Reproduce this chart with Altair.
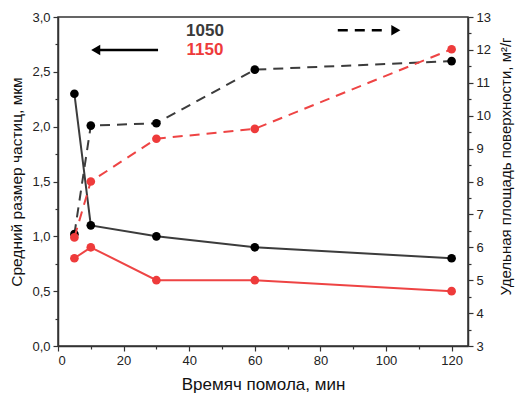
import altair as alt
import pandas as pd

# data
time_min = [5, 10, 30, 60, 120]
size_1050 = [2.3, 1.1, 1.0, 0.9, 0.8]
size_1150 = [0.8, 0.9, 0.6, 0.6, 0.5]
area_1050 = [6.4, 9.7, 9.77, 11.4, 11.66]
area_1150 = [6.3, 8.0, 9.3, 9.6, 12.02]
series = ["1050", "1150"]
colors_line = ["#3c3c3c", "#ee4444"]
colors_point = ["#000000", "#ee3b3b"]
label_colors = ["#3a3a3a", "#ee3b3b"]

FONT = "Liberation Sans"

rows = []
for i, t in enumerate(time_min):
    rows.append({"t": t, "s": "1050", "size": size_1050[i], "area": area_1050[i]})
    rows.append({"t": t, "s": "1150", "size": size_1150[i], "area": area_1150[i]})
df = pd.DataFrame(rows)

comma = "replace(format(datum.value, '.1f'), '.', ',')"

x_scale = alt.Scale(domain=[0, 125], nice=False, zero=False)
x_axis = alt.Axis(
    title="Времяч помола, мин",
    values=list(range(0, 121, 10)),
    labelExpr="datum.value % 20 === 0 ? datum.label : ''",
    tickSize={"condition": {"test": "datum.value % 20 === 0", "value": 5}, "value": 3},
    grid=False,
    titlePadding=9,
    titleFontSize=17,
)

left_scale = alt.Scale(domain=[0, 3], nice=False, zero=False)
right_scale = alt.Scale(domain=[3, 13], nice=False, zero=False)

left_axis = alt.Axis(
    title="Средний размер частиц, мкм",
    values=[i * 0.25 for i in range(13)],
    labelExpr=f"(datum.value * 4) % 2 === 0 ? {comma} : ''",
    tickSize={"condition": {"test": "(datum.value * 4) % 2 === 0", "value": 5}, "value": 3},
    grid=False,
    titlePadding=7,
    titleFontSize=15.5,
)
right_axis = alt.Axis(
    title="Удельная площадь поверхности, м²/г",
    orient="right",
    values=[3 + i * 0.5 for i in range(21)],
    labelExpr="(datum.value * 2) % 2 === 0 ? format(datum.value, 'd') : ''",
    tickSize={"condition": {"test": "(datum.value * 2) % 2 === 0", "value": 5}, "value": 3},
    grid=False,
    titleAngle=270,
    titleBaseline="top",
    titlePadding=8,
    titleFontSize=15,
    titleY=149,
)


def X(field="t:Q"):
    return alt.X(field, scale=x_scale, axis=x_axis)


def YL(field="size:Q"):
    return alt.Y(field, scale=left_scale, axis=left_axis)


def YR(field="area:Q"):
    return alt.Y(field, scale=right_scale, axis=right_axis)


left_layers = []
right_layers = []
for idx, s in enumerate(series):
    base = alt.Chart(df[df.s == s])
    left_layers.append(base.mark_line(color=colors_line[idx], strokeWidth=2).encode(x=X(), y=YL()))
    left_layers.append(base.mark_circle(color=colors_point[idx], size=75, opacity=1).encode(x=X(), y=YL()))
    right_layers.append(
        base.mark_line(color=colors_line[idx], strokeWidth=2, strokeDash=[10, 7]).encode(x=X(), y=YR())
    )
    right_layers.append(base.mark_circle(color=colors_point[idx], size=75, opacity=1).encode(x=X(), y=YR()))

# annotations: legend labels and arrows (in data coordinates)
label_df = pd.DataFrame({"t": [44.8, 44.8], "size": [2.87, 2.70], "s": series})
labels = alt.Chart(label_df).mark_text(
    font=FONT, fontSize=17, fontWeight="bold", align="center", baseline="middle"
).encode(
    x=X(),
    y=YL(),
    text="s:N",
    color=alt.Color("s:N", scale=alt.Scale(domain=series, range=label_colors), legend=None),
)

arrow_l_df = pd.DataFrame({"t": [12.0], "t2": [30.5], "size": [2.70]})
arrow_l_line = alt.Chart(arrow_l_df).mark_rule(color="black", strokeWidth=2.5).encode(
    x=X(), x2="t2:Q", y=YL()
)
arrow_l_head_df = pd.DataFrame({"t": [11.5], "size": [2.70]})
arrow_l_head = alt.Chart(arrow_l_head_df).mark_point(
    shape="triangle-left", filled=True, color="black", size=110, opacity=1
).encode(x=X(), y=YL())

arrow_r_df = pd.DataFrame({"t": [85.3], "t2": [100.5], "area": [12.6]})
arrow_r_line = alt.Chart(arrow_r_df).mark_rule(color="black", strokeWidth=2.5, strokeDash=[10, 7]).encode(
    x=X(), x2="t2:Q", y=YR()
)
arrow_r_head_df = pd.DataFrame({"t": [103.0], "area": [12.6]})
arrow_r_head = alt.Chart(arrow_r_head_df).mark_point(
    shape="triangle-right", filled=True, color="black", size=110, opacity=1
).encode(x=X(), y=YR())

left = alt.layer(*left_layers, labels, arrow_l_line, arrow_l_head)
right = alt.layer(*right_layers, arrow_r_line, arrow_r_head)

chart = (
    alt.layer(left, right)
    .resolve_scale(y="independent")
    .properties(
        width=410,
        height=329,
        autosize=alt.AutoSizeParams(type="none"),
        padding={"left": 58, "top": 17, "right": 48, "bottom": 50},
        background="white",
    )
    .configure_view(stroke="#333333", strokeWidth=1.5)
    .configure_axis(
        labelFont=FONT,
        titleFont=FONT,
        labelFontSize=13,
        titleFontWeight="normal",
        labelColor="#222222",
        titleColor="#111111",
        domainColor="#333333",
        tickColor="#333333",
        domainWidth=1.5,
        tickWidth=1.2,
        labelPadding=3,
    )
)

chart.save("out.html", embed_options={"renderer": "svg", "actions": False})
